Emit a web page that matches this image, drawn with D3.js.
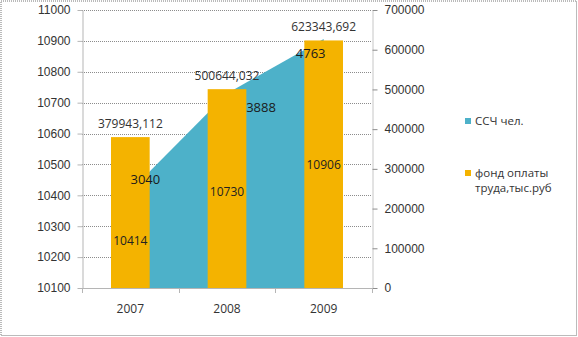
<!DOCTYPE html>
<html>
<head>
<meta charset="utf-8">
<script src="https://cdn.jsdelivr.net/npm/d3@7"></script>
<style>
  html, body { margin: 0; padding: 0; background: #fff; }
  svg { display: block; font-family: "Open Sans", "Noto Sans", sans-serif; }
</style>
</head>
<body>
<svg id="chart" width="578" height="337"></svg>
<script>
// Years on the category axis
const years = ["2007", "2008", "2009"];
// Average headcount, persons (area, left axis)
const headcount = [10414, 10730, 10906];
// Wage fund, thousand rubles (bars, right axis)
const wageFund = [379943.112, 500644.032, 623343.692];
// Extra annotations shown next to the area
const noteValues = [3040, 3888, 4763];
// Axis ticks
const leftTicks = [10100, 10200, 10300, 10400, 10500, 10600, 10700, 10800, 10900, 11000];
const rightTicks = [0, 100000, 200000, 300000, 400000, 500000, 600000, 700000];
// Legend entries
const seriesNames = ["ССЧ чел.", "фонд оплаты труда,тыс.руб"];

const areaColor = "#4db1c9";
const barColor = "#f4b300";
const textColor = "#333";

const svg = d3.select("#chart");
const W = 578, H = 337;
const plot = { left: 82, right: 372, top: 10, bottom: 288 };

// outer frame
svg.append("rect")
  .attr("x", 1).attr("y", 1).attr("width", W - 2.5).attr("height", H - 2.5)
  .attr("fill", "#fff").attr("stroke", "#777").attr("stroke-dasharray", "1,1");

const x = d3.scaleBand().domain(years).range([plot.left, plot.right]);
const bw = x.bandwidth();
const cx = c => x(c) + bw / 2;
const yL = d3.scaleLinear().domain([10100, 11000]).range([plot.bottom, plot.top]);
const yR = d3.scaleLinear().domain([0, 700000]).range([plot.bottom, plot.top]);

// horizontal gridlines
svg.append("g").selectAll("line")
  .data(leftTicks.slice(1))
  .join("line")
  .attr("x1", plot.left).attr("x2", plot.right)
  .attr("y1", d => Math.round(yL(d)) + 0.5).attr("y2", d => Math.round(yL(d)) + 0.5)
  .attr("stroke", "#8c8c8c").attr("stroke-dasharray", "1,1");

// area series
const areaGen = d3.area()
  .x((d, i) => cx(years[i]))
  .y0(yL(10100))
  .y1(d => yL(d));
svg.append("path")
  .datum(headcount)
  .attr("d", areaGen)
  .attr("fill", areaColor);

// bars
const barW = bw * 0.4;
svg.append("g").selectAll("rect")
  .data(wageFund)
  .join("rect")
  .attr("x", (d, i) => cx(years[i]) - barW / 2)
  .attr("width", barW)
  .attr("y", d => yR(d))
  .attr("height", d => yR(0) - yR(d))
  .attr("fill", barColor);

// left axis
const axL = svg.append("g")
  .attr("transform", `translate(${plot.left + 0.5},0)`)
  .call(d3.axisLeft(yL).tickValues(leftTicks).tickSize(5).tickSizeOuter(0).tickPadding(7).tickFormat(d3.format("d")));
axL.select(".domain").attr("stroke", "#b5b5b5");
axL.selectAll(".tick line").attr("stroke", "#b5b5b5");
axL.selectAll("text").attr("font-size", 12).attr("fill", textColor).attr("font-family", "inherit");

// right axis
const axR = svg.append("g")
  .attr("transform", `translate(${plot.right + 0.5},0)`)
  .call(d3.axisRight(yR).tickValues(rightTicks).tickSize(5).tickSizeOuter(0).tickPadding(7).tickFormat(d3.format("d")));
axR.select(".domain").attr("stroke", "#8c8c8c").attr("stroke-dasharray", "1,1");
axR.selectAll(".tick line").attr("stroke", "#8c8c8c");
axR.selectAll("text").attr("font-size", 12).attr("fill", textColor).attr("font-family", "inherit");

// category axis
svg.append("line")
  .attr("x1", plot.left).attr("x2", plot.right)
  .attr("y1", plot.bottom + 0.5).attr("y2", plot.bottom + 0.5)
  .attr("stroke", "#b5b5b5");
svg.append("g").selectAll("line")
  .data(years.map(c => x(c)).concat([plot.right]))
  .join("line")
  .attr("x1", d => Math.round(d) + 0.5).attr("x2", d => Math.round(d) + 0.5)
  .attr("y1", plot.bottom).attr("y2", plot.bottom + 5)
  .attr("stroke", "#b5b5b5");
svg.append("g").selectAll("text")
  .data(years)
  .join("text")
  .attr("x", d => cx(d)).attr("y", plot.bottom + 25)
  .attr("text-anchor", "middle").attr("font-size", 12).attr("fill", textColor)
  .text(d => d);

// bar value labels
const fmtRu = v => v.toFixed(3).replace(".", ",");
svg.append("g").selectAll("text")
  .data(wageFund)
  .join("text")
  .attr("x", (d, i) => cx(years[i]))
  .attr("y", d => yR(d) - 9)
  .attr("text-anchor", "middle").attr("font-size", 12).attr("fill", textColor)
  .text(d => fmtRu(d));

// area value labels at mid height
svg.append("g").selectAll("text")
  .data(headcount)
  .join("text")
  .attr("x", (d, i) => cx(years[i]))
  .attr("y", d => (yL(d) + yL(10100)) / 2 + 1)
  .attr("dy", "0.35em")
  .attr("text-anchor", "middle").attr("font-size", 12).attr("fill", "#222")
  .text(d => d);

// annotation labels next to the area's edge
const noteShift = [[15, 12], [34, -14], [-13, -14]];
svg.append("g").selectAll("text")
  .data(noteValues)
  .join("text")
  .attr("x", (d, i) => cx(years[i]) + noteShift[i][0])
  .attr("y", (d, i) => yL(headcount[i]) - noteShift[i][1])
  .attr("dy", "0.35em")
  .attr("text-anchor", "middle").attr("font-size", 13).attr("fill", "#1a1a1a")
  .text(d => d);

// legend
const legend = svg.append("g").attr("transform", "translate(465,0)");
const legendRows = [
  { color: areaColor, lines: [seriesNames[0]], y: 121 },
  { color: barColor, lines: ["фонд оплаты", "труда,тыс.руб"], y: 173 }
];
legendRows.forEach(r => {
  legend.append("rect").attr("x", 0).attr("y", r.y - 3).attr("width", 6).attr("height", 6).attr("fill", r.color);
  r.lines.forEach((t, j) => {
    legend.append("text").attr("x", 10).attr("y", r.y + j * 15).attr("dy", "0.35em")
      .attr("font-size", 11.5).attr("fill", textColor).text(t);
  });
});
</script>
</body>
</html>
